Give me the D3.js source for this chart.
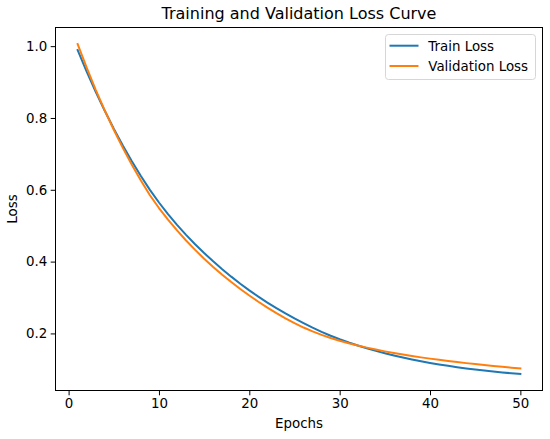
<!DOCTYPE html>
<html>
<head>
<meta charset="utf-8">
<script src="https://cdn.jsdelivr.net/npm/d3@7/dist/d3.min.js"></script>
<style>
  html, body { margin: 0; padding: 0; background: #fff; }
  svg { display: block; font-family: "DejaVu Sans", sans-serif; }
</style>
</head>
<body>
<svg id="chart" width="550" height="439"></svg>
<script>
// ---- data ----
const epochs = d3.range(1, 51);
const trainLoss = [
  0.989, 0.9291, 0.8728, 0.8199, 0.7702, 0.7236, 0.6797, 0.6385, 0.5998, 0.5646,
  0.5322, 0.5023, 0.4745, 0.4484, 0.4239, 0.4007, 0.3788, 0.3581, 0.3385, 0.3200,
  0.3025, 0.2860, 0.2704, 0.2556, 0.2416, 0.2284, 0.2159, 0.2043, 0.1936, 0.1838,
  0.1747, 0.1663, 0.1585, 0.1513, 0.1446, 0.1384, 0.1327, 0.1274, 0.1225, 0.1179,
  0.1136, 0.1097, 0.1060, 0.1026, 0.0995, 0.0966, 0.0939, 0.0914, 0.0891, 0.0870
];
const valLoss = [
  1.006, 0.9401, 0.8785, 0.8209, 0.7671, 0.7168, 0.6698, 0.6259, 0.5849, 0.5492,
  0.5167, 0.4868, 0.4587, 0.4326, 0.4082, 0.3852, 0.3635, 0.3430, 0.3237, 0.3055,
  0.2883, 0.2720, 0.2567, 0.2422, 0.2286, 0.2164, 0.2056, 0.1959, 0.1874, 0.1796,
  0.1726, 0.1662, 0.1604, 0.1550, 0.1500, 0.1454, 0.1411, 0.1371, 0.1333, 0.1298,
  0.1264, 0.1232, 0.1202, 0.1173, 0.1146, 0.1120, 0.1094, 0.1070, 0.1046, 0.1023
];
const seriesNames = ["Train Loss", "Validation Loss"];
const seriesColors = ["#1f77b4", "#ff7f0e"];
const xTicks = [0, 10, 20, 30, 40, 50];
const yTicks = [0.2, 0.4, 0.6, 0.8, 1.0];
const titleText = "Training and Validation Loss Curve";
const xLabel = "Epochs";
const yLabel = "Loss";

(function () {
// ---- layout ----
const mLeft = 55.5, mRight = 542.5, mTop = 27.5, mBottom = 390.5;
const svg = d3.select("#chart");

const xMin = d3.min(epochs), xMax = d3.max(epochs);
const xPad = (xMax - xMin) * 0.05;
const allY = trainLoss.concat(valLoss);
const yMin = d3.min(allY), yMax = d3.max(allY);
const yPad = (yMax - yMin) * 0.05;

const x = d3.scaleLinear().domain([xMin - xPad, xMax + xPad]).range([mLeft, mRight]);
const y = d3.scaleLinear().domain([yMin - yPad, yMax + yPad]).range([mBottom, mTop]);

const fontSize = 13.4;

// axes
const xAxis = svg.append("g")
  .attr("transform", `translate(0,${mBottom})`)
  .call(d3.axisBottom(x).tickValues(xTicks).tickFormat(d3.format("d")).tickSize(4.8).tickPadding(3.5));
const yAxis = svg.append("g")
  .attr("transform", `translate(${mLeft},0)`)
  .call(d3.axisLeft(y).tickValues(yTicks).tickFormat(d3.format(".1f")).tickSize(4.8).tickPadding(3.5));
[xAxis, yAxis].forEach(g => {
  g.select(".domain").remove();
  g.selectAll("line").attr("stroke", "#000").attr("stroke-width", 1);
  g.selectAll("text").attr("fill", "#000")
    .style("font-family", "DejaVu Sans, sans-serif")
    .style("font-size", fontSize + "px");
});

// lines
const line = d3.line().x((d, i) => x(epochs[i])).y(d => y(d));
[trainLoss, valLoss].forEach((s, k) => {
  svg.append("path")
    .datum(s)
    .attr("fill", "none")
    .attr("stroke", seriesColors[k])
    .attr("stroke-width", 2)
    .attr("stroke-linejoin", "round")
    .attr("stroke-linecap", "square")
    .attr("d", line);
});

// frame
svg.append("rect")
  .attr("x", mLeft).attr("y", mTop)
  .attr("width", mRight - mLeft).attr("height", mBottom - mTop)
  .attr("fill", "none").attr("stroke", "#000").attr("stroke-width", 1);

// title
svg.append("text")
  .attr("x", (mLeft + mRight) / 2).attr("y", 19.3)
  .attr("text-anchor", "middle")
  .style("font-size", "16px")
  .attr("fill", "#000")
  .text(titleText);

// axis labels
svg.append("text")
  .attr("x", (mLeft + mRight) / 2).attr("y", 428)
  .attr("text-anchor", "middle")
  .style("font-size", fontSize + "px")
  .attr("fill", "#000")
  .text(xLabel);
svg.append("text")
  .attr("transform", `translate(17,${(mTop + mBottom) / 2}) rotate(-90)`)
  .attr("text-anchor", "middle")
  .style("font-size", fontSize + "px")
  .attr("fill", "#000")
  .text(yLabel);

// legend
const lg = svg.append("g");
lg.append("rect")
  .attr("x", 385.5).attr("y", 34.5)
  .attr("width", 150).attr("height", 45)
  .attr("rx", 3).attr("ry", 3)
  .attr("fill", "#fff").attr("fill-opacity", 0.8)
  .attr("stroke", "#d6d6d6").attr("stroke-width", 1);
seriesNames.forEach((name, k) => {
  const cy = 45.7 + k * 20.3;
  lg.append("line")
    .attr("x1", 389.5).attr("x2", 418.5)
    .attr("y1", cy).attr("y2", cy)
    .attr("stroke", seriesColors[k]).attr("stroke-width", 2);
  lg.append("text")
    .attr("x", 428.3).attr("y", cy + 5.3)
    .style("font-size", fontSize + "px")
    .attr("fill", "#000")
    .text(name);
});
})();
</script>
</body>
</html>
